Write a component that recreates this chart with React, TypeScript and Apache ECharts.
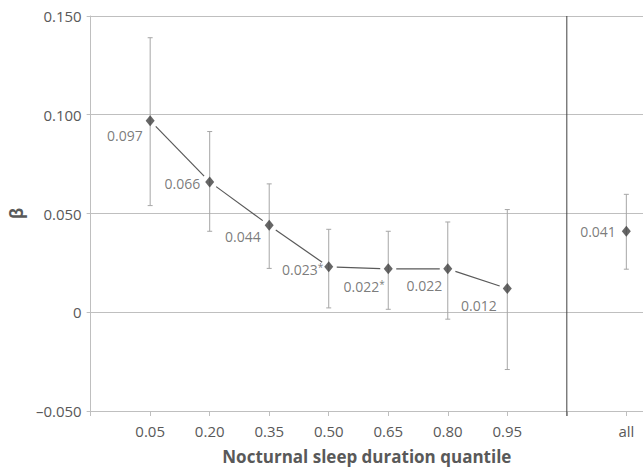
import React, { useEffect, useRef } from "react";
import * as echarts from "echarts";

const quantiles = ["0.05", "0.20", "0.35", "0.50", "0.65", "0.80", "0.95"];
const betas = [0.097, 0.066, 0.044, 0.023, 0.022, 0.022, 0.012];
const lowerCI = [0.054, 0.041, 0.0222, 0.0022, 0.0015, -0.0035, -0.029];
const upperCI = [0.139, 0.0915, 0.065, 0.042, 0.041, 0.0457, 0.052];
const significant = [false, false, false, true, true, false, false];
const overallLabel = "all";
const overallBeta = 0.041;
const overallLower = 0.0218;
const overallUpper = 0.0597;
const yTicks = [-0.05, 0, 0.05, 0.1, 0.15];

// label placement per point (style, not data): [dx, dy]
const labelOffsets: number[][] = [
  [-2, 15],
  [-4, 2],
  [-3, 11],
  [0, 3],
  [2, 18],
  [0, 17],
  [-5, 17],
];
const overallLabelOffset = [-5, 0];

const TEXT = "#595959";
const GRID = "#bfbfbf";
const FONT = "'Open Sans', 'Noto Sans', sans-serif";

export default function App() {
  const ref = useRef<HTMLDivElement>(null);
  useEffect(() => {
    if (!ref.current) return;
    const chart = echarts.init(ref.current, null, { renderer: "svg" });

    const xs = quantiles.map((_, i) => i + 1);
    const overallX = quantiles.length + 2;
    const sepX = quantiles.length + 1;
    const xLabelMap: Record<number, string> = {};
    quantiles.forEach((q, i) => (xLabelMap[i + 1] = q));
    xLabelMap[overallX] = overallLabel;

    const points = betas.map((b, i) => ({
      value: [xs[i], b],
      label: {
        offset: labelOffsets[i],
        formatter: significant[i]
          ? `{n|${b.toFixed(3)}}{s|*}`
          : `{n|${b.toFixed(3)}}`,
      },
    }));
    points.push({
      value: [overallX, overallBeta],
      label: {
        offset: overallLabelOffset,
        formatter: `{n|${overallBeta.toFixed(3)}}`,
      },
    });

    const errData = betas.map((_, i) => [xs[i], lowerCI[i], upperCI[i]]);
    errData.push([overallX, overallLower, overallUpper]);

    const segData: number[][] = [];
    for (let i = 0; i < betas.length - 1; i++) {
      segData.push([xs[i], betas[i], xs[i + 1], betas[i + 1]]);
    }

    chart.setOption({
      animation: false,
      grid: { left: 89, right: 0, top: 16, bottom: 59, containLabel: false },
      xAxis: {
        type: "value",
        min: 0,
        max: 9.28,
        interval: 1,
        splitLine: { show: false },
        axisLine: { onZero: false, lineStyle: { color: GRID, width: 1 } },
        axisTick: { show: true, length: 5, lineStyle: { color: GRID } },
        axisLabel: {
          color: TEXT,
          fontSize: 15,
          fontFamily: FONT,
          margin: 12,
          showMaxLabel: false,
          formatter: (v: number) =>
            xLabelMap[Math.round(v)] && Math.abs(v - Math.round(v)) < 1e-6
              ? xLabelMap[Math.round(v)]
              : "",
        },
        name: "Nocturnal sleep duration quantile",
        nameLocation: "middle",
        nameGap: 37,
        nameTextStyle: {
          color: TEXT,
          fontSize: 17,
          fontWeight: "bold",
          fontFamily: FONT,
        },
      },
      yAxis: {
        type: "value",
        min: yTicks[0],
        max: yTicks[yTicks.length - 1],
        interval: 0.05,
        axisLine: { show: true, lineStyle: { color: GRID, width: 1 } },
        axisTick: { show: true, length: 4, lineStyle: { color: GRID } },
        splitLine: { show: true, lineStyle: { color: GRID, width: 1 } },
        axisLabel: {
          color: TEXT,
          fontSize: 15,
          fontFamily: FONT,
          margin: 9,
          formatter: (v: number) =>
            Math.abs(v) < 1e-9
              ? "0"
              : (v < 0 ? "\u2013" : "") + Math.abs(v).toFixed(3),
        },
        name: "β",
        nameLocation: "middle",
        nameRotate: 90,
        nameGap: 60,
        nameTextStyle: { color: TEXT, fontSize: 17, fontWeight: "bold", fontFamily: FONT },
      },
      series: [
        {
          type: "custom",
          silent: true,
          z: 1,
          data: [[sepX]],
          renderItem: (params: any, api: any) => {
            const top = api.coord([api.value(0), yTicks[yTicks.length - 1]]);
            const bot = api.coord([api.value(0), yTicks[0]]);
            return {
              type: "line",
              shape: { x1: top[0], y1: top[1], x2: bot[0], y2: bot[1] + 5 },
              style: { stroke: "#404040", lineWidth: 1 },
            };
          },
        },
        {
          type: "custom",
          silent: true,
          z: 2,
          data: errData,
          renderItem: (params: any, api: any) => {
            const x = api.value(0);
            const lo = api.coord([x, api.value(1)]);
            const hi = api.coord([x, api.value(2)]);
            const cap = 2.5;
            const st = { stroke: "#a6a6a6", lineWidth: 1 };
            return {
              type: "group",
              children: [
                { type: "line", shape: { x1: lo[0], y1: lo[1], x2: hi[0], y2: hi[1] }, style: st },
                { type: "line", shape: { x1: lo[0] - cap, y1: lo[1], x2: lo[0] + cap, y2: lo[1] }, style: st },
                { type: "line", shape: { x1: hi[0] - cap, y1: hi[1], x2: hi[0] + cap, y2: hi[1] }, style: st },
              ],
            };
          },
        },
        {
          type: "custom",
          silent: true,
          z: 3,
          data: segData,
          renderItem: (params: any, api: any) => {
            const p1 = api.coord([api.value(0), api.value(1)]);
            const p2 = api.coord([api.value(2), api.value(3)]);
            const dx = p2[0] - p1[0];
            const dy = p2[1] - p1[1];
            const len = Math.sqrt(dx * dx + dy * dy);
            const g = 8;
            const ux = dx / len;
            const uy = dy / len;
            return {
              type: "line",
              shape: {
                x1: p1[0] + ux * g,
                y1: p1[1] + uy * g,
                x2: p2[0] - ux * g,
                y2: p2[1] - uy * g,
              },
              style: { stroke: "#595959", lineWidth: 1.2 },
            };
          },
        },
        {
          type: "scatter",
          z: 4,
          symbol: "diamond",
          symbolSize: [9, 11],
          itemStyle: { color: "#404040" },
          data: points,
          label: {
            show: true,
            position: "left",
            distance: 1,
            color: TEXT,
            fontFamily: FONT,
            rich: {
              n: { fontSize: 14, color: TEXT, fontFamily: FONT },
              s: {
                fontSize: 10,
                color: TEXT,
                fontFamily: FONT,
                verticalAlign: "top",
                padding: [0, 0, 6, 0],
              },
            },
          },
        },
      ],
    });
    return () => chart.dispose();
  }, []);
  return (
    <div
      ref={ref}
      style={{ position: "absolute", left: 0, top: 0, width: 643, height: 470 }}
    />
  );
}
